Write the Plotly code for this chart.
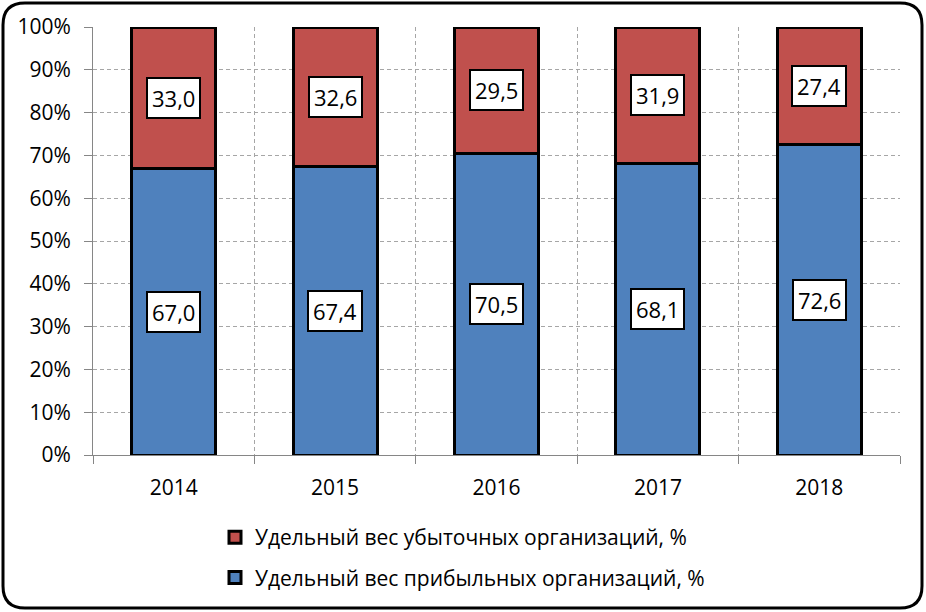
import plotly.graph_objects as go

years = ["2014", "2015", "2016", "2017", "2018"]
profitable = [67.0, 67.4, 70.5, 68.1, 72.6]
unprofitable = [33.0, 32.6, 29.5, 31.9, 27.4]
name_profit = "Удельный вес прибыльных организаций, %"
name_loss = "Удельный вес убыточных организаций, %"

W, H = 926, 612
ml, mr, mt, mb = 93, 26, 27, 157
pw, ph = W - ml - mr, H - mt - mb


def fmt(v):
    return f"{v:.1f}".replace(".", ",")


fig = go.Figure()
fig.add_trace(go.Bar(
    x=years, y=profitable, name=name_profit,
    marker=dict(color="#4F81BD", line=dict(color="black", width=3)),
    legendgroup="p", legendrank=2,
))
fig.add_trace(go.Bar(
    x=years, y=unprofitable, name=name_loss,
    marker=dict(color="#C0504D", line=dict(color="black", width=3)),
    legendgroup="u", legendrank=1,
))

# подписи значений в белых рамках (x — номер категории)
for i, (p, u) in enumerate(zip(profitable, unprofitable)):
    for val, yc in [(p, p / 2), (u, p + u / 2)]:
        fig.add_annotation(
            x=i, y=yc, text=fmt(val), showarrow=False,
            font=dict(family="Open Sans", size=22, color="black"),
            bgcolor="white", bordercolor="black", borderwidth=2, borderpad=4,
        )


def px2x(px):
    return (px - ml) / pw


def py2y(py):
    return (H - mb - py) / ph


# скруглённая рамка вокруг всего рисунка
x0, x1, y0, y1, r = 3, 922, 3, 608, 22
path = (f"M {px2x(x0 + r)},{py2y(y0)} L {px2x(x1 - r)},{py2y(y0)} "
        f"Q {px2x(x1)},{py2y(y0)} {px2x(x1)},{py2y(y0 + r)} "
        f"L {px2x(x1)},{py2y(y1 - r)} Q {px2x(x1)},{py2y(y1)} {px2x(x1 - r)},{py2y(y1)} "
        f"L {px2x(x0 + r)},{py2y(y1)} Q {px2x(x0)},{py2y(y1)} {px2x(x0)},{py2y(y1 - r)} "
        f"L {px2x(x0)},{py2y(y0 + r)} Q {px2x(x0)},{py2y(y0)} {px2x(x0 + r)},{py2y(y0)} Z")
fig.add_shape(type="path", path=path, xref="paper", yref="paper",
              line=dict(color="black", width=3), layer="above")

grid = dict(showgrid=True, gridcolor="#a6a6a6", griddash="4px,3px", gridwidth=1,
            showline=True, linecolor="#868686", linewidth=1,
            ticks="outside", ticklen=8, tickcolor="#868686",
            tickfont=dict(size=21))

fig.update_layout(
    width=W, height=H,
    margin=dict(l=ml, r=mr, t=mt, b=mb),
    barmode="stack", bargap=0.48,
    plot_bgcolor="white", paper_bgcolor="white",
    font=dict(family="Open Sans", size=21, color="black"),
    showlegend=True,
    legend=dict(orientation="v", x=px2x(215), xanchor="left", y=py2y(517), yanchor="top",
                traceorder="grouped", tracegroupgap=10,
                font=dict(size=21)),
    xaxis=dict(type="category", range=[-0.5, len(years) - 0.5],
               tickson="boundaries", ticklabelstandoff=14, **grid),
    yaxis=dict(range=[0, 100], dtick=10, ticksuffix="%", zeroline=False,
               ticklabelstandoff=9, **grid),
)

fig.write_html("out.html", config={"displayModeBar": False},
               post_script="document.body.style.margin='0';")
